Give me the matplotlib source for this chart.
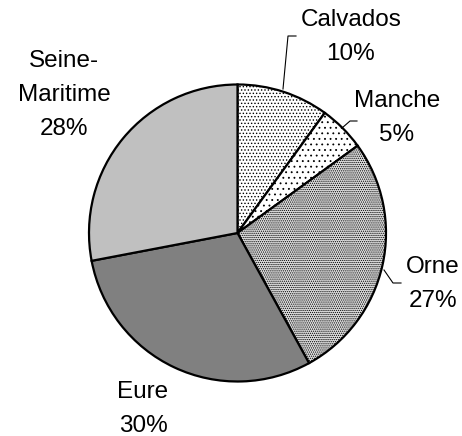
import matplotlib
matplotlib.use("Agg")
import matplotlib.pyplot as plt

# data
departements = ["Calvados", "Manche", "Orne", "Eure", "Seine-\nMaritime"]
parts = [10, 5, 27, 30, 28]

couleurs = ["white", "white", "#dedede", "#808080", "#c0c0c0"]
hachures = [".....", "...", "........", None, None]

plt.rcParams["font.family"] = ["Liberation Sans", "DejaVu Sans"]
plt.rcParams["hatch.linewidth"] = 0.6

W, H = 462, 436
fig = plt.figure(figsize=(W / 100, H / 100), dpi=100)
ax = fig.add_axes([0, 0, 1, 1])

# centre et rayon en pixels (y vers le haut)
cx, cy, r = 237.5, H - 233, 148.5

wedges, _ = ax.pie(parts, colors=couleurs, startangle=90, counterclock=False,
                   center=(cx, cy), radius=r, frame=True,
                   wedgeprops=dict(edgecolor="black", linewidth=1.6))
for w, h in zip(wedges, hachures):
    if h:
        w.set_hatch(h)
ax.set_xlim(0, W)
ax.set_ylim(0, H)
ax.set_aspect("equal")
ax.axis("off")

# etiquettes (x centre, ligne de base de la derniere ligne) en pixels
pos_etiquettes = [(351, 60), (397, 141), (433, 307), (143, 432), (64, 135)]
for nom, p, (x, y) in zip(departements, parts, pos_etiquettes):
    ax.text(x, H - y, f"{nom}\n{p}%", ha="center", va="baseline",
            fontsize=17.5, linespacing=1.72, multialignment="center")

# lignes de rappel
rappels = [
    [(283, 89), (288, 36), (296, 36)],
    [(342, 128), (350, 121), (357, 121)],
    [(384, 270), (393, 283), (401, 283)],
]
for pts in rappels:
    xs = [p[0] for p in pts]
    ys = [H - p[1] for p in pts]
    ax.plot(xs, ys, color="black", linewidth=0.8)

fig.savefig("out.png", dpi=100)
